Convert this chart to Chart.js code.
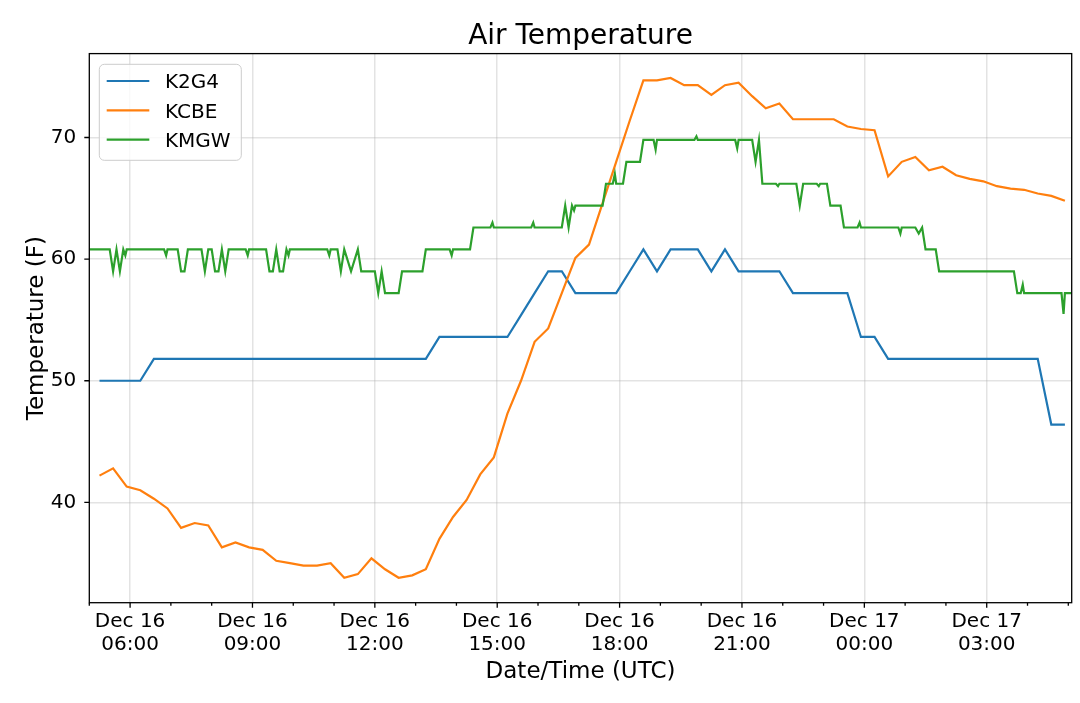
<!DOCTYPE html>
<html>
<head>
<meta charset="utf-8">
<title>Air Temperature</title>
<script src="https://cdn.jsdelivr.net/npm/chart.js@4.4.1/dist/chart.umd.min.js"></script>
<style>
  html, body { margin: 0; padding: 0; background: #fff; }
  #wrap { width: 1080px; height: 703px; position: relative; }
</style>
</head>
<body>
<div id="wrap"><canvas id="chart-air-temp"></canvas></div>
<script>
'use strict';

// K2G4 and KCBE report every 20 minutes ('DD HH:MM', UTC, December)
var obsTimes = [
  '16 05:15', '16 05:35', '16 05:55', '16 06:15', '16 06:35', '16 06:55', '16 07:15', '16 07:35',
  '16 07:55', '16 08:15', '16 08:35', '16 08:55', '16 09:15', '16 09:35', '16 09:55', '16 10:15',
  '16 10:35', '16 10:55', '16 11:15', '16 11:35', '16 11:55', '16 12:15', '16 12:35', '16 12:55',
  '16 13:15', '16 13:35', '16 13:55', '16 14:15', '16 14:35', '16 14:55', '16 15:15', '16 15:35',
  '16 15:55', '16 16:15', '16 16:35', '16 16:55', '16 17:15', '16 17:35', '16 17:55', '16 18:15',
  '16 18:35', '16 18:55', '16 19:15', '16 19:35', '16 19:55', '16 20:15', '16 20:35', '16 20:55',
  '16 21:15', '16 21:35', '16 21:55', '16 22:15', '16 22:35', '16 22:55', '16 23:15', '16 23:35',
  '16 23:55', '17 00:15', '17 00:35', '17 00:55', '17 01:15', '17 01:35', '17 01:55', '17 02:15',
  '17 02:35', '17 02:55', '17 03:15', '17 03:35', '17 03:55', '17 04:15', '17 04:35', '17 04:55'
];

var k2g4Temp = [
  50.0, 50.0, 50.0, 50.0, 51.8, 51.8, 51.8, 51.8, 51.8, 51.8, 51.8, 51.8, 51.8, 51.8, 51.8, 51.8,
  51.8, 51.8, 51.8, 51.8, 51.8, 51.8, 51.8, 51.8, 51.8, 53.6, 53.6, 53.6, 53.6, 53.6, 53.6, 55.4,
  57.2, 59.0, 59.0, 57.2, 57.2, 57.2, 57.2, 59.0, 60.8, 59.0, 60.8, 60.8, 60.8, 59.0, 60.8, 59.0,
  59.0, 59.0, 59.0, 57.2, 57.2, 57.2, 57.2, 57.2, 53.6, 53.6, 51.8, 51.8, 51.8, 51.8, 51.8, 51.8,
  51.8, 51.8, 51.8, 51.8, 51.8, 51.8, 46.4, 46.4
];

var kcbeTemp = [
  42.2, 42.8, 41.3, 41.0, 40.3, 39.5, 37.9, 38.3, 38.1, 36.3, 36.7, 36.3, 36.1, 35.2, 35.0, 34.8,
  34.8, 35.0, 33.8, 34.1, 35.4, 34.5, 33.8, 34.0, 34.5, 37.0, 38.8, 40.2, 42.3, 43.7, 47.3, 50.0,
  53.2, 54.3, 57.2, 60.1, 61.2, 64.6, 68.0, 71.4, 74.7, 74.7, 74.9, 74.3, 74.3, 73.5, 74.3, 74.5,
  73.4, 72.4, 72.8, 71.5, 71.5, 71.5, 71.5, 70.9, 70.7, 70.6, 66.8, 68.0, 68.4, 67.3, 67.6, 66.9,
  66.6, 66.4, 66.0, 65.8, 65.7, 65.4, 65.2, 64.8
];

// KMGW 5-minute record plus hourly :53 reports, only where the trace changes
var kmgwTimes = [
  '16 05:00', '16 05:30', '16 05:35', '16 05:40', '16 05:45', '16 05:50', '16 05:53', '16 05:55',
  '16 06:50', '16 06:53', '16 06:55', '16 07:10', '16 07:15', '16 07:20', '16 07:25', '16 07:45',
  '16 07:50', '16 07:55', '16 08:00', '16 08:05', '16 08:10', '16 08:15', '16 08:20', '16 08:25',
  '16 08:50', '16 08:53', '16 08:55', '16 09:20', '16 09:25', '16 09:30', '16 09:35', '16 09:40',
  '16 09:45', '16 09:50', '16 09:53', '16 09:55', '16 10:50', '16 10:53', '16 10:55', '16 11:05',
  '16 11:10', '16 11:15', '16 11:25', '16 11:35', '16 11:40', '16 12:00', '16 12:05', '16 12:10',
  '16 12:15', '16 12:35', '16 12:40', '16 13:10', '16 13:15', '16 13:50', '16 13:53', '16 13:55',
  '16 14:20', '16 14:25', '16 14:50', '16 14:53', '16 14:55', '16 15:50', '16 15:53', '16 15:55',
  '16 16:35', '16 16:40', '16 16:45', '16 16:50', '16 16:53', '16 16:55', '16 17:35', '16 17:40',
  '16 17:50', '16 17:53', '16 17:55', '16 18:05', '16 18:10', '16 18:30', '16 18:35', '16 18:50',
  '16 18:53', '16 18:55', '16 19:50', '16 19:53', '16 19:55', '16 20:50', '16 20:53', '16 20:55',
  '16 21:15', '16 21:20', '16 21:25', '16 21:30', '16 21:50', '16 21:53', '16 21:55', '16 22:20',
  '16 22:25', '16 22:30', '16 22:50', '16 22:53', '16 22:55', '16 23:05', '16 23:10', '16 23:25',
  '16 23:30', '16 23:50', '16 23:53', '16 23:55', '17 00:50', '17 00:53', '17 00:55', '17 01:15',
  '17 01:20', '17 01:25', '17 01:30', '17 01:45', '17 01:50', '17 03:40', '17 03:45', '17 03:50',
  '17 03:53', '17 03:55', '17 04:50', '17 04:53', '17 04:55', '17 05:05'
];

var kmgwTemp = [
  60.8, 60.8, 59.0, 60.8, 59.0, 60.8, 60.3, 60.8,
  60.8, 60.3, 60.8, 60.8, 59.0, 59.0, 60.8, 60.8,
  59.0, 60.8, 60.8, 59.0, 59.0, 60.8, 59.0, 60.8,
  60.8, 60.3, 60.8, 60.8, 59.0, 59.0, 60.8, 59.0,
  59.0, 60.8, 60.3, 60.8, 60.8, 60.3, 60.8, 60.8,
  59.0, 60.8, 59.0, 60.8, 59.0, 59.0, 57.2, 59.0,
  57.2, 57.2, 59.0, 59.0, 60.8, 60.8, 60.3, 60.8,
  60.8, 62.6, 62.6, 63.0, 62.6, 62.6, 63.0, 62.6,
  62.6, 64.4, 62.6, 64.4, 64.0, 64.4, 64.4, 66.2,
  66.2, 67.0, 66.2, 66.2, 68.0, 68.0, 69.8, 69.8,
  69.0, 69.8, 69.8, 70.1, 69.8, 69.8, 69.1, 69.8,
  69.8, 68.0, 69.8, 66.2, 66.2, 66.0, 66.2, 66.2,
  64.4, 66.2, 66.2, 66.0, 66.2, 66.2, 64.4, 64.4,
  62.6, 62.6, 63.0, 62.6, 62.6, 62.1, 62.6, 62.6,
  62.1, 62.6, 60.8, 60.8, 59.0, 59.0, 57.2, 57.2,
  57.9, 57.2, 57.2, 55.5, 57.2, 57.2
];

var stationNames = ['K2G4', 'KCBE', 'KMGW'];
var stationColors = ['#1f77b4', '#ff7f0e', '#2ca02c'];

var yTicks = [40, 50, 60, 70];
var xMajorHours = [6, 9, 12, 15, 18, 21, 24, 27];
var xTickLabels = [
  ['Dec 16', '06:00'], ['Dec 16', '09:00'], ['Dec 16', '12:00'], ['Dec 16', '15:00'],
  ['Dec 16', '18:00'], ['Dec 16', '21:00'], ['Dec 17', '00:00'], ['Dec 17', '03:00']
];

var FONT = 'DejaVu Sans';

// 'DD HH:MM' -> hours after Dec 16 00:00
function toHours(s) {
  var day = +s.slice(0, 2), hh = +s.slice(3, 5), mm = +s.slice(6, 8);
  return (day - 16) * 24 + hh + mm / 60;
}

function toPoints(times, temps) {
  return times.map(function (t, i) { return { x: toHours(t), y: temps[i] }; });
}

var xMin = toHours(kmgwTimes[0]);
var xMax = toHours(kmgwTimes[kmgwTimes.length - 1]);

// spines, tick marks and a matplotlib style legend
var framePlugin = {
  id: 'frame',
  afterDatasetsDraw: function (chart) {
    var ctx = chart.ctx, a = chart.chartArea;
    var xs = chart.scales.x, ys = chart.scales.y;

    ctx.save();
    ctx.strokeStyle = '#000';
    ctx.lineWidth = 1.3;
    ctx.strokeRect(a.left, a.top, a.right - a.left, a.bottom - a.top);

    ctx.beginPath();
    xs.ticks.forEach(function (t) {
      var px = xs.getPixelForValue(t.value);
      var len = xMajorHours.indexOf(t.value) >= 0 ? 5 : 3;
      ctx.moveTo(px, a.bottom);
      ctx.lineTo(px, a.bottom + len);
    });
    ys.ticks.forEach(function (t) {
      var py = ys.getPixelForValue(t.value);
      ctx.moveTo(a.left, py);
      ctx.lineTo(a.left - 5, py);
    });
    ctx.stroke();

    var lx = a.left + 10, ly = a.top + 10.7;
    ctx.beginPath();
    if (ctx.roundRect) ctx.roundRect(lx, ly, 142, 96, 5);
    else ctx.rect(lx, ly, 142, 96);
    ctx.fillStyle = 'rgba(255,255,255,0.8)';
    ctx.fill();
    ctx.strokeStyle = '#cccccc';
    ctx.lineWidth = 1;
    ctx.stroke();

    ctx.font = '20px "' + FONT + '"';
    ctx.textAlign = 'left';
    ctx.textBaseline = 'alphabetic';
    chart.data.datasets.forEach(function (ds, i) {
      var y = ly + 16.7 + i * 29.3;
      ctx.beginPath();
      ctx.moveTo(lx + 7.4, y);
      ctx.lineTo(lx + 50, y);
      ctx.strokeStyle = ds.borderColor;
      ctx.lineWidth = 2.2;
      ctx.stroke();
      ctx.fillStyle = '#000';
      ctx.fillText(ds.label, lx + 65.7, y + 7.3);
    });
    ctx.restore();
  }
};

var canvas = document.getElementById('chart-air-temp');

new Chart(canvas, {
  type: 'line',
  data: {
    datasets: [
      { label: stationNames[0], data: toPoints(obsTimes, k2g4Temp), order: 3 },
      { label: stationNames[1], data: toPoints(obsTimes, kcbeTemp), order: 2 },
      { label: stationNames[2], data: toPoints(kmgwTimes, kmgwTemp), order: 1 }
    ].map(function (ds, i) {
      ds.borderColor = stationColors[i];
      ds.backgroundColor = stationColors[i];
      ds.borderWidth = 2.2;
      ds.pointRadius = 0;
      ds.tension = 0;
      ds.fill = false;
      return ds;
    })
  },
  options: {
    responsive: true,
    maintainAspectRatio: false,
    animation: false,
    layout: { padding: { left: 0, right: 8.3, top: 0, bottom: 0 } },
    plugins: {
      legend: { display: false },
      tooltip: { enabled: false },
      title: {
        display: true,
        fullSize: false,
        text: 'Air Temperature',
        color: '#000',
        font: { family: FONT, size: 28, weight: 'normal' },
        padding: { top: 20, bottom: 0 }
      }
    },
    scales: {
      x: {
        type: 'linear',
        min: xMin,
        max: xMax,
        afterBuildTicks: function (scale) {
          var ticks = [];
          for (var h = Math.ceil(xMin); h <= xMax; h++) ticks.push({ value: h });
          scale.ticks = ticks;
        },
        afterFit: function (scale) { scale.height = 100.3; },
        border: { display: false },
        grid: {
          drawTicks: false,
          lineWidth: 1.5,
          color: function (c) {
            return c.tick && xMajorHours.indexOf(c.tick.value) >= 0 ? 'rgba(176,176,176,0.35)' : 'rgba(0,0,0,0)';
          }
        },
        ticks: {
          autoSkip: false,
          maxRotation: 0,
          minRotation: 0,
          padding: 8,
          color: '#000',
          font: { family: FONT, size: 20, lineHeight: 1.15 },
          callback: function (value) {
            var k = xMajorHours.indexOf(value);
            return k >= 0 ? xTickLabels[k] : '';
          }
        },
        title: {
          display: true,
          text: 'Date/Time (UTC)',
          color: '#000',
          font: { family: FONT, size: 23 },
          padding: { top: 0, bottom: 17 }
        }
      },
      y: {
        min: 31.75,
        max: 76.9,
        afterBuildTicks: function (scale) {
          scale.ticks = yTicks.map(function (v) { return { value: v }; });
        },
        afterFit: function (scale) { scale.width = 89.3; },
        border: { display: false },
        grid: {
          drawTicks: false,
          lineWidth: 1.5,
          color: 'rgba(176,176,176,0.35)'
        },
        ticks: {
          padding: 13,
          color: '#000',
          font: { family: FONT, size: 20 },
          callback: function (value) { return String(value); }
        },
        title: {
          display: true,
          text: 'Temperature (F)',
          color: '#000',
          font: { family: FONT, size: 23 },
          padding: { top: 23, bottom: 0 }
        }
      }
    }
  },
  plugins: [framePlugin]
});
</script>
</body>
</html>
